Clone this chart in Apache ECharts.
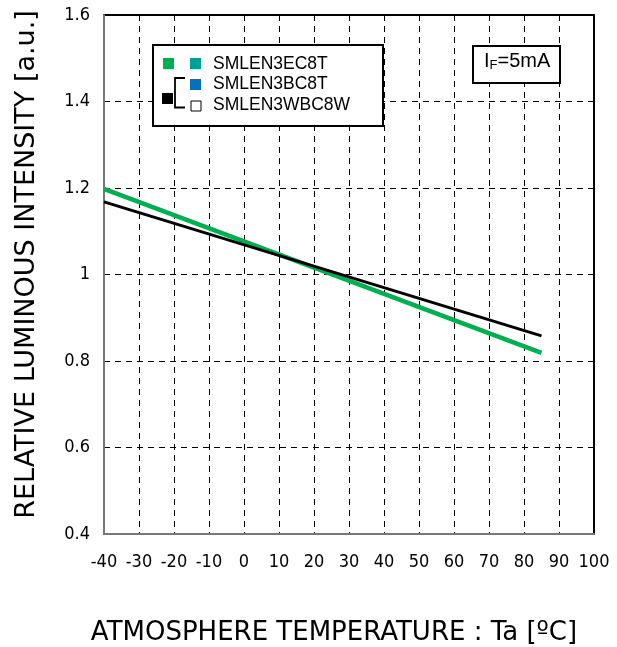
<!DOCTYPE html>
<html><head><meta charset="utf-8">
<script src="https://cdn.jsdelivr.net/npm/echarts@6/dist/echarts.min.js"></script>
<style>html,body{margin:0;padding:0;background:#fff;overflow:hidden}#c{width:617px;height:647px}</style>
</head><body><div id="c"></div>
<script>
var temps = [-40, 85];
var greenSeries = [1.198, 0.819];
var blackSeries = [1.168, 0.858];
var xTicks = [-40,-30,-20,-10,0,10,20,30,40,50,60,70,80,90,100];
var yTicks = [0.4,0.6,0.8,1,1.2,1.4,1.6];
var legendNames = ['SMLEN3EC8T','SMLEN3BC8T','SMLEN3WBC8W'];

function pairs(xs, ys){ return xs.map(function(x,i){return [x, ys[i]];}); }

var chart = echarts.init(document.getElementById('c'));
var tickFont = {fontFamily:'DejaVu Sans Condensed', fontSize:18, color:'#000'};
chart.setOption({
  animation:false,
  grid:{left:104, top:15, right:23, bottom:113, show:true, borderColor:'#000', borderWidth:2, backgroundColor:'transparent', containLabel:false, outerBoundsMode:'none'},
  xAxis:{type:'value', min:-40, max:100, interval:10,
    axisLine:{show:true, onZero:false, lineStyle:{color:'#777', width:2}},
    axisTick:{show:false},
    splitLine:{show:true, lineStyle:{color:'#000', type:[6,5], width:1}},
    axisLabel:Object.assign({margin:19, formatter:function(v){return xTicks.indexOf(v)>=0?String(v):'';}}, tickFont),
    name:'ATMOSPHERE TEMPERATURE : Ta [ºC]', nameLocation:'middle', nameGap:86,
    nameTextStyle:{fontFamily:'DejaVu Sans', fontSize:26, color:'#000', padding:[0,30,0,0]}
  },
  yAxis:{type:'value', min:0.4, max:1.6, interval:0.2,
    axisLine:{show:true, onZero:false, lineStyle:{color:'#777', width:2}},
    axisTick:{show:false},
    splitLine:{show:true, lineStyle:{color:'#000', type:[6,5], width:1}},
    axisLabel:Object.assign({margin:14, formatter:function(v){var r=Math.round(v*10)/10; return yTicks.indexOf(r)>=0?String(r):'';}}, tickFont),
    name:'RELATIVE LUMINOUS INTENSITY [a.u.]', nameLocation:'middle', nameGap:64,
    nameTextStyle:{fontFamily:'DejaVu Sans', fontSize:27, color:'#000', padding:[0,0,0,20]}
  },
  series:[
    {type:'line', data:pairs(temps, greenSeries), symbol:'none', lineStyle:{color:'#00B050', width:4.5}, z:3},
    {type:'line', data:pairs(temps, blackSeries), symbol:'none', lineStyle:{color:'#000', width:3}, z:4}
  ],
  graphic:[
    {type:'rect', left:152, top:44, shape:{width:230, height:81}, style:{fill:'#fff', stroke:'#000', lineWidth:2}, z:10},
    {type:'rect', left:163, top:58, shape:{width:11, height:11}, style:{fill:'#00B050'}, z:11},
    {type:'rect', left:190, top:58, shape:{width:11, height:11}, style:{fill:'#00A09A'}, z:11},
    {type:'text', left:213, top:55, style:{text:legendNames[0], font:'17.5px "Liberation Sans"', fill:'#000'}, z:11},
    {type:'rect', left:190, top:79, shape:{width:11, height:11}, style:{fill:'#0070C0'}, z:11},
    {type:'text', left:213, top:75, style:{text:legendNames[1], font:'17.5px "Liberation Sans"', fill:'#000'}, z:11},
    {type:'rect', left:190.5, top:100.5, shape:{width:10, height:10}, style:{fill:'#fff', stroke:'#000', lineWidth:1}, z:11},
    {type:'text', left:213, top:96, style:{text:legendNames[2], font:'17.5px "Liberation Sans"', fill:'#000'}, z:11},
    {type:'rect', left:162, top:93, shape:{width:11, height:11}, style:{fill:'#000'}, z:11},
    {type:'polyline', shape:{points:[[185,78],[175,78],[175,107.5],[185,107.5]]}, style:{stroke:'#000', lineWidth:1.8, fill:null}, z:11},
    {type:'rect', left:472, top:45, shape:{width:87, height:37}, style:{fill:'#fff', stroke:'#000', lineWidth:2}, z:10},
    {type:'text', left:484, top:51, style:{rich:{a:{fontFamily:'Liberation Sans', fontSize:20, fill:'#000'}, s:{fontFamily:'Liberation Sans', fontSize:13, fill:'#000', verticalAlign:'bottom', padding:[9,0,0,0]}}, text:'{a|I}{s|F}{a|=5mA}'}, z:11}
  ]
});
</script></body></html>
